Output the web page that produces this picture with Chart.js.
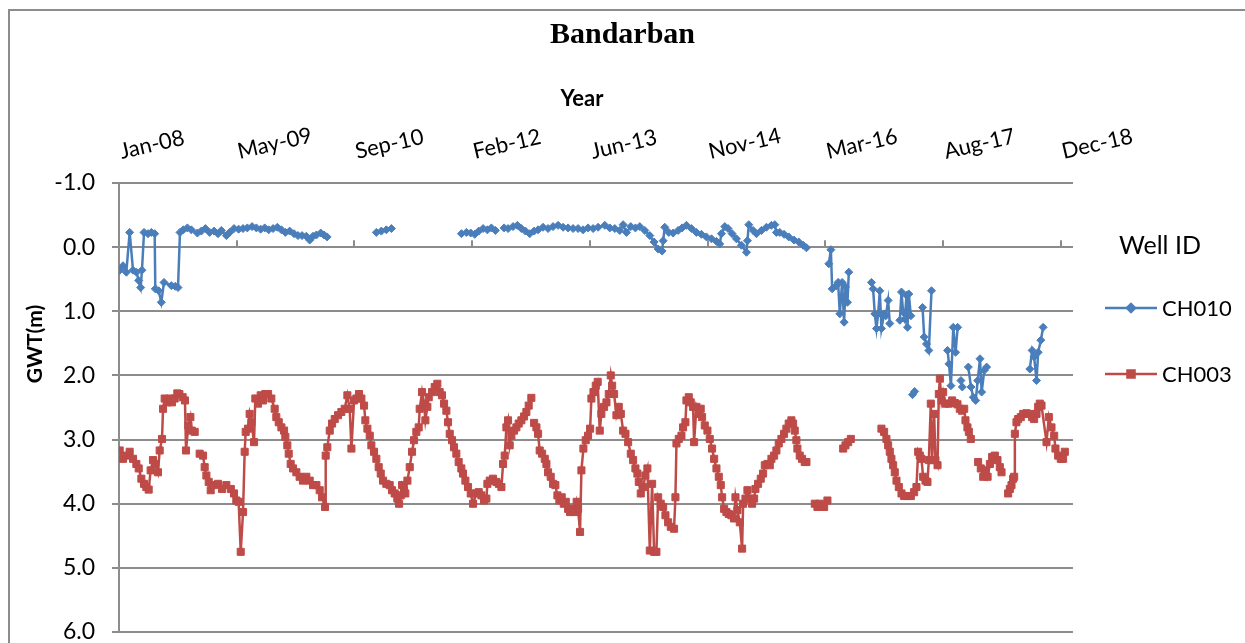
<!DOCTYPE html>
<html>
<head>
<meta charset="utf-8">
<title>Bandarban</title>
<script src="https://cdn.jsdelivr.net/npm/chart.js@4.4.1/dist/chart.umd.min.js"></script>
<style>
  html, body { margin: 0; padding: 0; background: #fff; overflow: hidden; }
  #c { display: block; }
</style>
</head>
<body>
<canvas id="c" width="1245" height="643"></canvas>
<script>
// =====================
//  DATA (decimal year, GWT in m below ground; null = gap in record)
// =====================
const WELL_IDS = ["CH010", "CH003"];
const X_TICK_DAYS = [0, 500, 1000, 1500, 2000, 2500, 3000, 3500, 4000];   // days from 1 Jan 2008
const Y_TICKS = [-1, 0, 1, 2, 3, 4, 5, 6];

const ch010Years = [
  2008.008, 2008.047, 2008.085, 2008.124, 2008.163, 2008.202, 2008.229, 2008.252, 2008.267, 2008.291,
  2008.337, 2008.376, 2008.415, 2008.422, 2008.461, 2008.492, 2008.523, 2008.609, 2008.655, 2008.686,
  2008.709, 2008.748, 2008.795, 2008.841, 2008.911, 2008.957, 2009.004, 2009.054, 2009.105, 2009.151,
  2009.19, 2009.248, 2009.287, 2009.337, 2009.391, 2009.442, 2009.492, 2009.547, 2009.597, 2009.647,
  2009.694, 2009.74, 2009.791, 2009.841, 2009.888, 2009.934, 2009.984, 2010.035, 2010.081, 2010.128,
  2010.178, 2010.217, 2010.256, 2010.295, 2010.345, 2010.384, 2010.419, 2010.7,
  2010.992, 2011.05, 2011.108, 2011.167, 2011.5,
  2011.981, 2012.039, 2012.089, 2012.136, 2012.182, 2012.233, 2012.283, 2012.329, 2012.376, 2012.43,
  2012.477, 2012.523, 2012.581, 2012.632, 2012.678, 2012.725, 2012.775, 2012.826, 2012.872, 2012.93,
  2012.988, 2013.046, 2013.105, 2013.163, 2013.221, 2013.279, 2013.337, 2013.395, 2013.453, 2013.512,
  2013.57, 2013.648, 2013.706, 2013.764, 2013.822, 2013.861, 2013.9, 2013.95, 2014.004, 2014.055,
  2014.113, 2014.171, 2014.221, 2014.268, 2014.314, 2014.326, 2014.345, 2014.392, 2014.442, 2014.5,
  2014.547, 2014.597, 2014.655, 2014.713, 2014.771, 2014.829, 2014.888, 2014.946, 2014.984, 2015.004,
  2015.043, 2015.081, 2015.128, 2015.178, 2015.236, 2015.295, 2015.306, 2015.322, 2015.372, 2015.411,
  2015.469, 2015.527, 2015.585, 2015.624, 2015.643, 2015.682, 2015.732, 2015.786, 2015.848, 2015.903,
  2015.953, 2015.992, 2016.1,
  2016.252, 2016.276, 2016.291, 2016.341, 2016.36, 2016.38, 2016.407, 2016.43, 2016.446, 2016.469,
  2016.485, 2016.6,
  2016.748, 2016.767, 2016.787, 2016.806, 2016.826, 2016.845, 2016.864, 2016.895, 2016.915, 2016.942,
  2016.961, 2017.02,
  2017.078, 2017.097, 2017.116, 2017.136, 2017.155, 2017.167, 2017.182, 2017.206, 2017.22,
  2017.225, 2017.25, 2017.3,
  2017.342, 2017.361, 2017.388, 2017.415, 2017.446, 2017.55,
  2017.633, 2017.649, 2017.672, 2017.699, 2017.726, 2017.75, 2017.77,
  2017.788, 2017.804, 2017.84,
  2017.874, 2017.905, 2017.932, 2017.96, 2017.983, 2018.01, 2018.029, 2018.06, 2018.087, 2018.3,
  2018.589, 2018.616, 2018.639, 2018.667, 2018.686, 2018.717, 2018.744
];
const ch010Gwt = [
  0.36, 0.29, 0.39, -0.23, 0.36, 0.39, 0.52, 0.63, 0.36, -0.23,
  -0.21, -0.23, -0.21, 0.65, 0.68, 0.86, 0.55, 0.60, 0.61, 0.63,
  -0.23, -0.27, -0.30, -0.27, -0.22, -0.25, -0.29, -0.23, -0.25, -0.21,
  -0.26, -0.18, -0.23, -0.29, -0.28, -0.29, -0.30, -0.32, -0.30, -0.28,
  -0.30, -0.27, -0.29, -0.31, -0.27, -0.23, -0.25, -0.21, -0.18, -0.18,
  -0.17, -0.11, -0.17, -0.19, -0.22, -0.19, -0.16, null,
  -0.23, -0.25, -0.27, -0.29, null,
  -0.21, -0.23, -0.22, -0.20, -0.25, -0.29, -0.27, -0.30, -0.26, null,
  -0.30, -0.29, -0.32, -0.34, -0.29, -0.25, -0.21, -0.25, -0.27, -0.31,
  -0.29, -0.32, -0.34, -0.31, -0.30, -0.29, -0.29, -0.27, -0.30, -0.29,
  -0.31, -0.34, -0.30, -0.29, -0.26, -0.35, -0.23, -0.32, -0.30, -0.32,
  -0.26, -0.18, -0.08, 0.03, 0.06, -0.10, -0.31, -0.23, -0.22, -0.26,
  -0.30, -0.34, -0.29, -0.23, -0.20, -0.16, -0.13, -0.09, -0.05, -0.21,
  -0.32, -0.29, -0.21, -0.13, -0.03, 0.08, -0.10, -0.35, -0.26, -0.21,
  -0.26, -0.31, -0.34, -0.35, -0.23, -0.23, -0.20, -0.16, -0.11, -0.08,
  -0.03, 0.01, null,
  0.26, 0.04, 0.65, 0.60, 0.55, 1.04, 0.55, 1.17, 0.62, 0.86,
  0.39, null,
  0.55, 0.65, 1.04, 1.27, 1.04, 0.68, 1.27, 1.04, 1.07, 0.83,
  1.19, null,
  1.14, 0.70, 1.01, 1.12, 0.75, 1.25, 0.73, 1.07, null,
  2.30, 2.25, null,
  0.94, 1.40, 1.51, 1.61, 0.68, null,
  1.61, 1.82, 2.16, 1.25, 1.64, 1.25, null,
  2.08, 2.18, null,
  1.87, 2.18, 2.34, 2.39, 2.08, 1.74, 2.26, 1.92, 1.87, null,
  1.90, 1.61, 1.71, 2.08, 1.64, 1.45, 1.25
];

const ch003Years = [
  2008.008, 2008.047, 2008.085, 2008.124, 2008.163, 2008.202, 2008.229, 2008.26, 2008.291, 2008.318,
  2008.345, 2008.368, 2008.395, 2008.422, 2008.453, 2008.473, 2008.5, 2008.512, 2008.531, 2008.562,
  2008.589, 2008.616, 2008.647, 2008.678, 2008.702, 2008.74, 2008.767, 2008.779, 2008.806, 2008.83,
  2008.845, 2008.88, 2008.91,
  2008.938, 2008.977, 2008.996, 2009.016, 2009.043, 2009.066, 2009.105, 2009.151, 2009.198, 2009.248,
  2009.3, 2009.337, 2009.364, 2009.391, 2009.415, 2009.442, 2009.461, 2009.473, 2009.5, 2009.519,
  2009.539, 2009.57, 2009.585, 2009.616, 2009.647, 2009.674, 2009.701, 2009.733, 2009.771, 2009.81,
  2009.829, 2009.857, 2009.888, 2009.919, 2009.934, 2009.957, 2009.973, 2009.996, 2010.023, 2010.062,
  2010.1, 2010.139, 2010.178, 2010.217, 2010.256, 2010.295, 2010.333, 2010.361, 2010.395, 2010.403,
  2010.422, 2010.45, 2010.477, 2010.508, 2010.547, 2010.585, 2010.624, 2010.655, 2010.682, 2010.702,
  2010.733, 2010.76, 2010.79, 2010.818, 2010.849, 2010.864, 2010.888, 2010.915, 2010.934, 2010.965,
  2010.992, 2011.019, 2011.043, 2011.07, 2011.108, 2011.147, 2011.174, 2011.205, 2011.236, 2011.256,
  2011.275, 2011.291, 2011.314, 2011.329, 2011.353, 2011.38, 2011.407, 2011.43, 2011.457, 2011.484,
  2011.496, 2011.523, 2011.546, 2011.562, 2011.585, 2011.601, 2011.639, 2011.67, 2011.701, 2011.728,
  2011.755, 2011.779, 2011.806, 2011.825, 2011.845, 2011.872, 2011.895, 2011.922, 2011.949, 2011.98,
  2011.999, 2012.027, 2012.058, 2012.089, 2012.116, 2012.155, 2012.182, 2012.213, 2012.244, 2012.271,
  2012.283, 2012.31, 2012.348, 2012.387, 2012.415, 2012.446, 2012.465, 2012.484, 2012.504, 2012.523,
  2012.542, 2012.562, 2012.593, 2012.62, 2012.647, 2012.678, 2012.709, 2012.736, 2012.763, 2012.794,
  2012.81,
  2012.826, 2012.853, 2012.872, 2012.891, 2012.919, 2012.95, 2012.969, 2012.988, 2013.019, 2013.046,
  2013.073, 2013.097, 2013.12, 2013.147, 2013.171, 2013.194, 2013.221, 2013.244, 2013.271, 2013.298,
  2013.321, 2013.337, 2013.36, 2013.376, 2013.399, 2013.426, 2013.453, 2013.477, 2013.492, 2013.516,
  2013.543, 2013.565, 2013.589, 2013.608, 2013.639, 2013.667, 2013.694, 2013.717, 2013.733, 2013.756,
  2013.783, 2013.81, 2013.834, 2013.861, 2013.888, 2013.919, 2013.95, 2013.977, 2014.004, 2014.027,
  2014.043, 2014.066, 2014.093, 2014.12, 2014.143, 2014.171, 2014.198, 2014.221, 2014.248, 2014.268,
  2014.298, 2014.326, 2014.353, 2014.384, 2014.415, 2014.453, 2014.469, 2014.481, 2014.508, 2014.539,
  2014.558, 2014.585, 2014.597, 2014.624, 2014.647, 2014.674, 2014.686, 2014.713, 2014.74, 2014.763,
  2014.779, 2014.81, 2014.841, 2014.868, 2014.895, 2014.919, 2014.946, 2014.973, 2014.996, 2015.012,
  2015.035, 2015.062, 2015.089, 2015.12, 2015.151, 2015.167, 2015.19, 2015.217, 2015.244, 2015.256,
  2015.283, 2015.306, 2015.333, 2015.36, 2015.384, 2015.399, 2015.43, 2015.461, 2015.488, 2015.508,
  2015.539, 2015.566, 2015.585, 2015.616, 2015.643, 2015.67, 2015.701, 2015.732, 2015.759, 2015.786,
  2015.817, 2015.837, 2015.856, 2015.875, 2015.887, 2015.914, 2015.941, 2015.972, 2015.992, 2016.04,
  2016.089, 2016.12, 2016.147, 2016.198, 2016.236, 2016.33,
  2016.419, 2016.446, 2016.477, 2016.508, 2016.7,
  2016.864, 2016.895, 2016.922, 2016.942, 2016.961, 2016.98, 2017.0, 2017.019, 2017.039, 2017.066,
  2017.097, 2017.128, 2017.167, 2017.206, 2017.244, 2017.271, 2017.291, 2017.31, 2017.329, 2017.349,
  2017.376, 2017.399, 2017.415, 2017.438, 2017.453, 2017.477, 2017.492, 2017.516, 2017.531, 2017.543,
  2017.562, 2017.581, 2017.609, 2017.647, 2017.686, 2017.717, 2017.748, 2017.775, 2017.802, 2017.826,
  2017.841, 2017.864, 2017.88, 2017.903, 2017.95,
  2017.988, 2018.019, 2018.047, 2018.074, 2018.098, 2018.125, 2018.151, 2018.182, 2018.213, 2018.24,
  2018.26, 2018.3,
  2018.337, 2018.357, 2018.376, 2018.395, 2018.407, 2018.415, 2018.434, 2018.453, 2018.484, 2018.512,
  2018.55, 2018.589, 2018.616, 2018.639, 2018.667, 2018.686, 2018.705, 2018.725, 2018.783, 2018.81,
  2018.841, 2018.872, 2018.887, 2018.918, 2018.949, 2018.976, 2018.996
];
const ch003Gwt = [
  3.17, 3.30, 3.25, 3.19, 3.30, 3.38, 3.45, 3.61, 3.69, 3.74,
  3.78, 3.48, 3.32, 3.38, 3.51, 3.17, 2.99, 2.52, 2.36, 2.42,
  2.36, 2.42, 2.36, 2.28, 2.29, 2.34, 2.39, 3.17, 2.78, 2.65,
  2.86, 2.88, null,
  3.22, 3.25, 3.43, 3.56, 3.66, 3.79, 3.71, 3.69, 3.77, 3.71,
  3.77, 3.84, 3.95, 3.97, 4.75, 4.13, 3.19, 2.88, 2.83, 2.60,
  2.73, 3.04, 2.36, 2.44, 2.31, 2.39, 2.29, 2.29, 2.36, 2.52,
  2.65, 2.73, 2.81, 2.86, 2.96, 3.09, 3.22, 3.38, 3.45, 3.51,
  3.58, 3.64, 3.58, 3.64, 3.71, 3.71, 3.79, 3.90, 4.05, 3.25,
  3.12, 2.86, 2.75, 2.68, 2.62, 2.57, 2.52, 2.31, 2.52, 3.14,
  2.39, 2.36, 2.29, 2.36, 2.47, 2.70, 2.83, 2.94, 3.09, 3.19,
  3.30, 3.43, 3.53, 3.64, 3.69, 3.71, 3.79, 3.84, 3.92, 4.00,
  3.87, 3.71, 3.79, 3.84, 3.64, 3.43, 3.19, 3.01, 2.88, 2.81,
  2.52, 2.26, 2.44, 2.70, 2.49, 2.34, 2.26, 2.18, 2.13, 2.26,
  2.31, 2.44, 2.55, 2.73, 2.91, 3.01, 3.12, 3.22, 3.35, 3.45,
  3.53, 3.64, 3.74, 3.84, 4.00, 3.84, 3.82, 3.87, 3.95, 3.92,
  3.69, 3.64, 3.61, 3.66, 3.69, 3.74, 3.38, 3.25, 2.81, 2.70,
  3.09, 2.94, 2.86, 2.81, 2.75, 2.70, 2.64, 2.57, 2.47, 2.35,
  null,
  2.74, 2.81, 2.91, 3.17, 3.22, 3.30, 3.38, 3.51, 3.58, 3.69,
  3.71, 3.87, 3.95, 3.90, 4.00, 3.97, 4.08, 4.13, 4.08, 4.13,
  3.97, 4.08, 4.44, 3.48, 3.14, 3.01, 2.94, 2.83, 2.36, 2.26,
  2.16, 2.10, 2.86, 2.60, 2.49, 2.42, 2.29, 2.00, 2.16, 2.29,
  2.62, 2.49, 2.60, 2.86, 2.91, 3.04, 3.22, 3.32, 3.45, 3.53,
  3.66, 3.84, 3.74, 3.56, 3.45, 4.73, 3.69, 4.75, 4.75, 3.90,
  4.00, 4.05, 4.18, 4.29, 4.36, 4.39, 3.90, 3.06, 2.99, 2.94,
  2.81, 2.73, 2.39, 2.34, 2.42, 2.49, 3.04, 2.49, 2.60, 2.52,
  2.65, 2.78, 2.86, 2.99, 3.14, 3.30, 3.45, 3.58, 3.71, 3.90,
  4.08, 4.13, 4.16, 4.18, 4.23, 3.90, 4.10, 4.29, 4.70, 4.00,
  3.92, 3.79, 3.92, 4.00, 3.92, 3.77, 3.69, 3.61, 3.53, 3.40,
  3.38, 3.40, 3.30, 3.25, 3.17, 3.06, 2.99, 2.91, 2.83, 2.75,
  2.70, 2.75, 2.86, 3.01, 3.14, 3.25, 3.30, 3.35, 3.35, null,
  4.00, 4.05, 4.00, 4.05, 3.95, null,
  3.14, 3.09, 3.04, 2.99, null,
  2.83, 2.88, 2.99, 3.09, 3.19, 3.30, 3.40, 3.51, 3.64, 3.74,
  3.84, 3.88, 3.88, 3.88, 3.82, 3.74, 3.19, 3.25, 3.30, 3.58,
  3.64, 3.66, 3.32, 2.44, 3.32, 2.60, 3.32, 3.40, 2.29, 2.05,
  2.39, 2.26, 2.44, 2.44, 2.39, 2.43, 2.45, 2.52, 2.55, 2.52,
  2.70, 2.81, 2.88, 2.99, null,
  3.35, 3.45, 3.58, 3.48, 3.58, 3.38, 3.27, 3.25, 3.32, 3.43,
  3.51, null,
  3.84, 3.77, 3.71, 3.61, 3.58, 2.91, 2.73, 2.68, 2.65, 2.60,
  2.59, 2.60, 2.65, 2.68, 2.60, 2.49, 2.44, 2.47, 3.04, 2.65,
  2.81, 2.94, 3.14, 3.25, 3.30, 3.30, 3.19
];

const BLUE = "#4a7ebb";
const RED = "#be4b48";
const GRID = "#8c8c8c";
const FONT = "Lato, 'Open Sans', sans-serif";
const MONTHS = ["Jan", "Feb", "Mar", "Apr", "May", "Jun", "Jul", "Aug", "Sep", "Oct", "Nov", "Dec"];

// axis runs in days counted from 1 Jan 2008 (Excel-style 500 day steps)
const toDay = (yr) => (yr - 2008) * 365.25;
const toPoints = (years, vals) => years.map((yr, i) => ({ x: toDay(yr), y: vals[i] }));

function dayLabel(d) {
    const dt = new Date(Date.UTC(2008, 0, 1) + d * 86400000);
    return MONTHS[dt.getUTCMonth()] + "-" + String(dt.getUTCFullYear()).slice(2);
}


// =====================
//  EXTRA DRAWING (frame, zero-line ticks, axis titles, legend)
// =====================
const chartFrame = {
    id: "chartFrame",
    beforeDraw(chart) {
        const ctx = chart.ctx;
        ctx.save();
        ctx.strokeStyle = GRID;
        ctx.lineWidth = 2;
        ctx.beginPath();
        ctx.moveTo(9, chart.height + 5);
        ctx.lineTo(9, 10);
        ctx.lineTo(chart.width + 5, 10);
        ctx.stroke();
        ctx.restore();
    }
};

const zeroAxisTicks = {
    id: "zeroAxisTicks",
    beforeDatasetsDraw(chart) {
        const ctx = chart.ctx;
        const xs = chart.scales.x;
        const y0 = chart.scales.y.getPixelForValue(0);
        ctx.save();
        ctx.strokeStyle = GRID;
        ctx.lineWidth = 2;
        ctx.beginPath();
        xs.ticks.forEach((t) => {
            const px = Math.round(xs.getPixelForValue(t.value));
            ctx.moveTo(px, y0);
            ctx.lineTo(px, y0 - 7);
        });
        ctx.stroke();
        ctx.restore();
    }
};

const axisTitles = {
    id: "axisTitles",
    afterDraw(chart) {
        const ctx = chart.ctx;
        ctx.save();
        ctx.fillStyle = "#000";
        ctx.textAlign = "center";
        ctx.textBaseline = "alphabetic";
        ctx.font = "bold 22px " + FONT;
        ctx.fillText("Year", 582, 106);
        ctx.translate(42, 344);
        ctx.rotate(-Math.PI / 2);
        ctx.font = "bold 21px " + FONT;
        ctx.fillText("GWT(m)", 0, 0);
        ctx.restore();
    }
};

const wellLegend = {
    id: "wellLegend",
    afterDraw(chart) {
        const ctx = chart.ctx;
        ctx.save();
        ctx.fillStyle = "#000";
        ctx.textAlign = "left";
        ctx.textBaseline = "middle";
        ctx.font = "25px " + FONT;
        ctx.fillText("Well ID", 1119, 246);
        ctx.font = "22px " + FONT;
        chart.data.datasets.forEach((ds, i) => {
            const y = 308 + i * 66;
            ctx.strokeStyle = ds.borderColor;
            ctx.lineWidth = 2.5;
            ctx.beginPath();
            ctx.moveTo(1105, y);
            ctx.lineTo(1157, y);
            ctx.stroke();
            ctx.fillStyle = ds.pointBackgroundColor;
            ctx.strokeStyle = ds.pointBorderColor;
            Chart.helpers.drawPoint(ctx, {
                pointStyle: ds.pointStyle,
                radius: ds.pointRadius,
                borderWidth: 1
            }, 1131, y);
            ctx.fillStyle = "#000";
            ctx.fillText(ds.label, 1162, y + 1);
        });
        ctx.restore();
    }
};


// =====================
//  LINE CHART
// =====================
const ctx = document.getElementById("c").getContext("2d");

new Chart(ctx, {
    type: "line",
    data: {
        datasets: [
            {
                label: WELL_IDS[0],
                data: toPoints(ch010Years, ch010Gwt),
                borderColor: BLUE,
                borderWidth: 2.5,
                pointStyle: "rectRot",
                pointRadius: 4,
                pointBackgroundColor: BLUE,
                pointBorderColor: BLUE,
                pointBorderWidth: 1,
                tension: 0,
                spanGaps: false
            },
            {
                label: WELL_IDS[1],
                data: toPoints(ch003Years, ch003Gwt),
                borderColor: RED,
                borderWidth: 2.5,
                pointStyle: "rect",
                pointRadius: 5,
                pointBackgroundColor: RED,
                pointBorderColor: RED,
                pointBorderWidth: 1,
                tension: 0,
                spanGaps: false
            }
        ]
    },
    options: {
        responsive: false,
        animation: false,
        layout: { padding: { left: 0, right: 0, top: 0, bottom: 11 } },
        plugins: {
            legend: { display: false },
            tooltip: { enabled: false },
            title: {
                display: true,
                text: "Bandarban",
                color: "#000",
                font: { family: "'Liberation Serif', 'Times New Roman', serif", size: 30, weight: "bold" },
                padding: { top: 17, bottom: 0 }
            }
        },
        scales: {
            x: {
                type: "linear",
                position: "top",
                min: 0,
                max: 4051,
                afterFit: (s) => { s.height = 130; },
                afterBuildTicks: (s) => { s.ticks = X_TICK_DAYS.map((v) => ({ value: v })); },
                ticks: {
                    autoSkip: false,
                    minRotation: 13,
                    maxRotation: 13,
                    padding: 10,
                    labelOffset: 7,
                    color: "#000",
                    font: { family: FONT, size: 22 },
                    callback: (v) => dayLabel(v)
                },
                grid: { display: false },
                border: { display: false }
            },
            y: {
                type: "linear",
                position: "left",
                min: Y_TICKS[0],
                max: Y_TICKS[Y_TICKS.length - 1],
                reverse: true,
                afterFit: (s) => {
                    s.width = 119;
                    // plot fills down to the 6.0 line; no extra room for the last label
                    s.paddingTop = 0;
                    s.paddingBottom = 0;
                },
                afterBuildTicks: (s) => { s.ticks = Y_TICKS.map((v) => ({ value: v })); },
                ticks: {
                    padding: 17,
                    color: "#000",
                    font: () => ({ family: FONT, size: 23 }),
                    callback: (v) => Number(v).toFixed(1)
                },
                grid: { color: GRID, lineWidth: 2, tickLength: 7 },
                border: { color: GRID, width: 2 }
            },
            // empty right-hand axis only reserves the legend column
            legendSpace: {
                type: "linear",
                position: "right",
                afterFit: (s) => { s.width = 172; },
                ticks: { display: false },
                grid: { display: false, drawTicks: false },
                border: { display: false }
            }
        }
    },
    plugins: [chartFrame, zeroAxisTicks, axisTitles, wellLegend]
});
</script>
</body>
</html>
